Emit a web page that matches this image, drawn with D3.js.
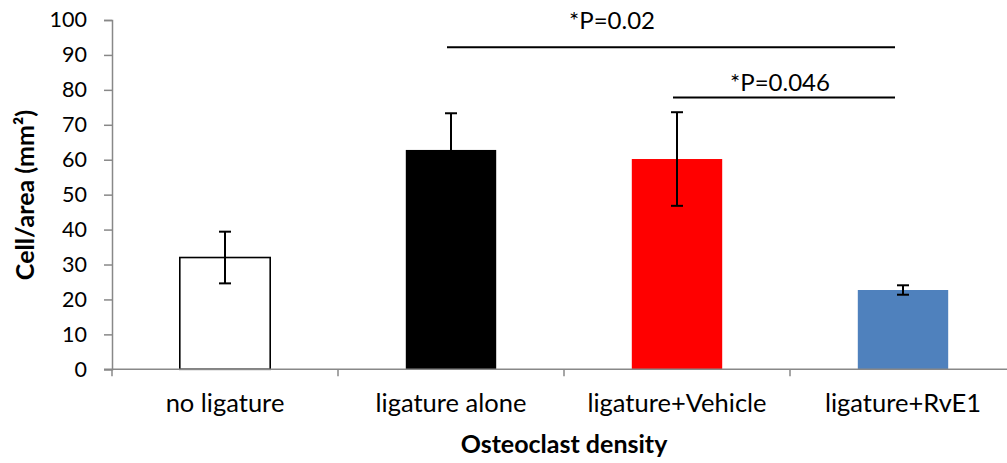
<!DOCTYPE html>
<html>
<head>
<meta charset="utf-8">
<script src="https://cdn.jsdelivr.net/npm/d3@7"></script>
<style>
  html, body { margin: 0; padding: 0; background: #fff; }
  svg { display: block; font-family: Lato, "Open Sans", sans-serif; }
</style>
</head>
<body>
<svg id="chart" width="1007" height="463"></svg>
<script>
// Osteoclast density per group (cells / mm²), mean ± error
const categories = ["no ligature", "ligature alone", "ligature+Vehicle", "ligature+RvE1"];
const means = [32.0, 62.8, 60.2, 22.7];
const errors = [7.4, 10.5, 13.4, 1.35];
const fills = ["#ffffff", "#000000", "#ff0000", "#4f81bd"];
const yTicks = [0, 10, 20, 30, 40, 50, 60, 70, 80, 90, 100];

// Significance comparisons
const compFrom = ["ligature alone", "ligature+Vehicle"];
const compTo = ["ligature+RvE1", "ligature+RvE1"];
const compLevel = [92.2, 77.8];
const compLabels = ["*P=0.02", "*P=0.046"];

const svg = d3.select("#chart");
const plotLeft = 112, plotRight = 1016, plotTop = 20, plotBottom = 369.3;

const x = d3.scaleBand().domain(categories).range([plotLeft, plotRight])
  .paddingInner(0.6).paddingOuter(0.3);
const y = d3.scaleLinear().domain([0, 100]).range([plotBottom, plotTop]);

// Bars
svg.append("g").selectAll("rect").data(categories).join("rect")
  .attr("x", d => x(d))
  .attr("y", (d, i) => y(means[i]))
  .attr("width", x.bandwidth())
  .attr("height", (d, i) => y(0) - y(means[i]))
  .attr("fill", (d, i) => fills[i])
  .attr("stroke", (d, i) => i === 0 ? "#000" : "none")
  .attr("stroke-width", 1.6);

// Error bars
const eb = svg.append("g").attr("stroke", "#000").attr("stroke-width", 2);
categories.forEach((c, i) => {
  const cx = x(c) + x.bandwidth() / 2;
  const hi = y(means[i] + errors[i]), lo = y(means[i] - errors[i]);
  eb.append("line").attr("x1", cx).attr("x2", cx).attr("y1", hi).attr("y2", lo);
  eb.append("line").attr("x1", cx - 6).attr("x2", cx + 6).attr("y1", hi).attr("y2", hi);
  eb.append("line").attr("x1", cx - 6).attr("x2", cx + 6).attr("y1", lo).attr("y2", lo);
});

// Y axis
const yAxis = svg.append("g").attr("transform", `translate(${plotLeft},0)`)
  .call(d3.axisLeft(y).tickValues(yTicks).tickSize(8).tickPadding(17));
yAxis.select(".domain").attr("stroke", "#888").attr("stroke-width", 1.5);
yAxis.selectAll(".tick line").attr("stroke", "#888").attr("stroke-width", 1.5);
yAxis.selectAll(".tick text").attr("font-size", 21.5).attr("fill", "#000")
  .attr("font-family", "Lato, sans-serif");

// X axis: boundary ticks between groups, labels at group centres
const xg = svg.append("g");
xg.append("line").attr("x1", plotLeft - 8).attr("x2", 1007)
  .attr("y1", y(0)).attr("y2", y(0)).attr("stroke", "#888").attr("stroke-width", 1.5);
const boundaries = d3.range(categories.length + 1).map(i => plotLeft + i * x.step());
xg.selectAll("line.tk").data(boundaries).join("line").attr("class", "tk")
  .attr("x1", d => d).attr("x2", d => d)
  .attr("y1", y(0)).attr("y2", y(0) + 7)
  .attr("stroke", "#888").attr("stroke-width", 1.5);
xg.selectAll("text").data(categories).join("text")
  .attr("x", d => x(d) + x.bandwidth() / 2)
  .attr("y", 412)
  .attr("text-anchor", "middle")
  .attr("font-size", 25.5)
  .text(d => d);

// Axis titles
svg.append("text")
  .attr("transform", `translate(34,195) rotate(-90)`)
  .attr("text-anchor", "middle")
  .attr("font-size", 25).attr("font-weight", "bold")
  .text("Cell/area (mm²)");
svg.append("text")
  .attr("x", 564).attr("y", 453)
  .attr("text-anchor", "middle")
  .attr("font-size", 25).attr("font-weight", "bold")
  .text("Osteoclast density");

// Significance lines and p-values
const sig = svg.append("g");
compLabels.forEach((lab, i) => {
  const x1 = x(compFrom[i]) + x.bandwidth() / 2 - 4;
  const x2 = x(compTo[i]) + x.bandwidth() / 2 - 8;
  const ly = y(compLevel[i]);
  sig.append("line").attr("x1", x1).attr("x2", x2).attr("y1", ly).attr("y2", ly)
    .attr("stroke", "#000").attr("stroke-width", 2);
  const tx = i === 0 ? (x1 + x2) / 2 - 59 : (x1 + x2) / 2 - 4;
  const ty = i === 0 ? ly - 18 : ly - 7;
  sig.append("text").attr("x", tx).attr("y", ty)
    .attr("text-anchor", "middle").attr("font-size", 24).text(lab);
});
</script>
</body>
</html>
